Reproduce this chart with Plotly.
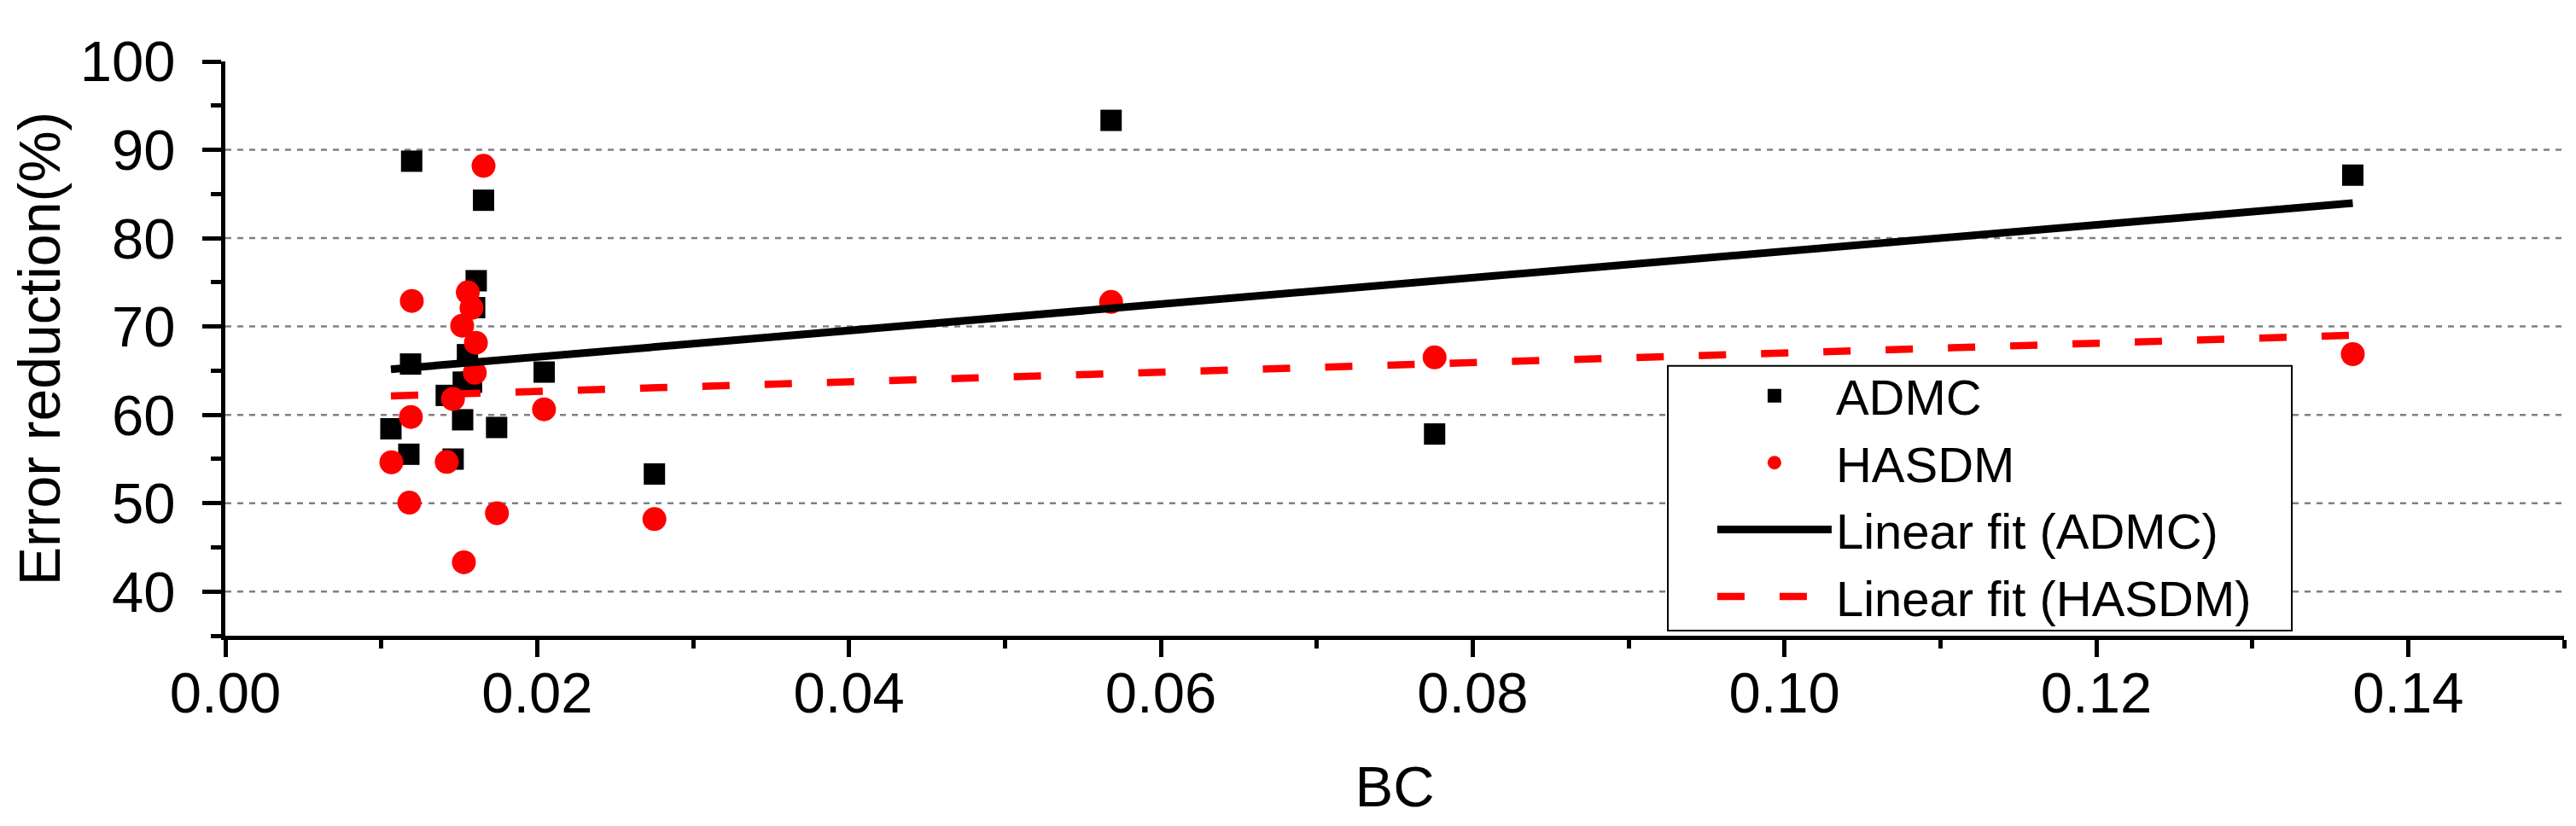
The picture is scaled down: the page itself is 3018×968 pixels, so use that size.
import plotly.graph_objects as go

# ---- data ----
bc_admc = [0.01195, 0.01656, 0.01609, 0.01599, 0.01553, 0.01188, 0.02045, 0.01526,
           0.01579, 0.01417, 0.01522, 0.01740, 0.01062, 0.01177, 0.01461, 0.02752,
           0.05681, 0.07756, 0.13645]
admc = [88.71, 84.29, 75.18, 72.13, 66.81, 65.75, 64.84, 63.70,
        63.70, 62.20, 59.44, 58.57, 58.42, 55.54, 54.99, 53.30,
        93.33, 57.83, 87.13]

bc_hasdm = [0.01656, 0.01196, 0.01555, 0.01579, 0.01519, 0.01607, 0.01600, 0.01460,
            0.02044, 0.01190, 0.01065, 0.01420, 0.01180, 0.01742, 0.01530, 0.02752,
            0.05681, 0.07756, 0.13645]
hasdm = [88.19, 72.89, 73.87, 72.10, 70.09, 68.16, 64.76, 61.80,
         60.63, 59.76, 54.63, 54.67, 50.06, 48.87, 43.31, 48.20,
         72.78, 66.50, 66.87]

fit_bc = [0.01062, 0.13645]
fit_admc = [65.15, 83.96]
fit_hasdm = [62.14, 69.00]

grid_vals = [40, 50, 60, 70, 80, 90]

FONT = "Liberation Sans, Arial, sans-serif"

fig = go.Figure()
fig.add_trace(go.Scatter(x=bc_admc, y=admc, mode="markers", name="ADMC",
                         marker=dict(symbol="square", size=25, color="black")))
fig.add_trace(go.Scatter(x=bc_hasdm, y=hasdm, mode="markers", name="HASDM",
                         marker=dict(symbol="circle", size=28, color="#ff0000")))
fig.add_trace(go.Scatter(x=fit_bc, y=fit_admc, mode="lines", name="Linear fit (ADMC)",
                         line=dict(color="black", width=9)))
fig.add_trace(go.Scatter(x=fit_bc, y=fit_hasdm, mode="lines", name="Linear fit (HASDM)",
                         line=dict(color="#ff0000", width=8.5, dash="32px,41px")))

for v in grid_vals:
    fig.add_hline(y=v, line=dict(color="#808080", width=2.5, dash="7px,7px"), layer="below")

# legend frame (white box with thin black border)
fig.add_shape(type="rect", xref="paper", yref="paper",
              x0=0.6168, x1=0.8836, y0=0.0089, y1=0.470,
              line=dict(color="black", width=2), fillcolor="white", layer="above")

fig.update_layout(
    width=3018, height=968,
    margin=dict(l=256, r=22, t=64, b=231),
    paper_bgcolor="white", plot_bgcolor="white",
    font=dict(family=FONT, size=67, color="black"),
    showlegend=True,
    legend=dict(x=0.6361, y=0.4836, xanchor="left", yanchor="top",
                bgcolor="rgba(0,0,0,0)", borderwidth=0,
                font=dict(family=FONT, size=58, color="black"),
                itemwidth=134, tracegroupgap=0),
)
fig.update_xaxes(
    range=[0, 0.15], dtick=0.02, tick0=0, tickformat=".2f",
    showline=True, linecolor="black", linewidth=5, mirror=False,
    ticks="outside", ticklen=20, tickwidth=5, tickcolor="black",
    minor=dict(dtick=0.01, ticks="outside", ticklen=10, tickwidth=5, tickcolor="black"),
    showgrid=False, zeroline=False,
    tickfont=dict(family=FONT, size=67),
    ticklabelstandoff=-15,
    title=dict(text="BC", font=dict(family=FONT, size=67), standoff=51),
)
fig.update_yaxes(
    range=[35, 100], dtick=10, tick0=0,
    showline=True, linecolor="black", linewidth=5, mirror=False,
    ticks="outside", ticklen=22, tickwidth=5, tickcolor="black",
    minor=dict(dtick=5, ticks="outside", ticklen=12, tickwidth=5, tickcolor="black"),
    showgrid=False, zeroline=False,
    tickfont=dict(family=FONT, size=67),
    ticklabelstandoff=18,
    title=dict(text="Error reduction(%)", font=dict(family=FONT, size=68), standoff=18),
)

fig.write_html("out.html")
